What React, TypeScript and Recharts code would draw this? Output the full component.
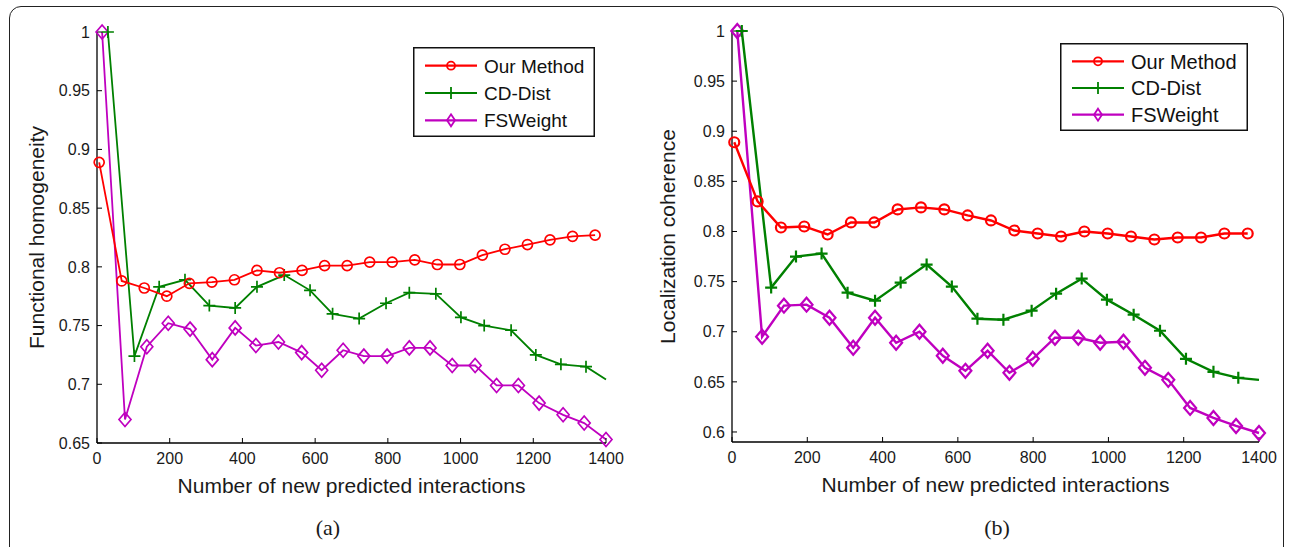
import React from "react";
import { LineChart, Line, XAxis, YAxis, Label } from "recharts";

// x positions (number of new predicted interactions) and values
const xTicks = [0, 200, 400, 600, 800, 1000, 1200, 1400];
const yTicksA = [0.65, 0.7, 0.75, 0.8, 0.85, 0.9, 0.95, 1];
const yTicksB = [0.6, 0.65, 0.7, 0.75, 0.8, 0.85, 0.9, 0.95, 1];

const ourX = [6, 68, 130, 192, 254, 316, 378, 440, 502, 564, 626, 688, 750, 812, 874, 936, 998, 1060, 1122, 1184, 1246, 1308, 1370];
const ourA = [0.889, 0.788, 0.782, 0.775, 0.786, 0.787, 0.789, 0.797, 0.795, 0.797, 0.801, 0.801, 0.804, 0.804, 0.806, 0.802, 0.802, 0.81, 0.815, 0.819, 0.823, 0.826, 0.827];
const ourB = [0.889, 0.83, 0.804, 0.805, 0.797, 0.809, 0.809, 0.822, 0.824, 0.822, 0.816, 0.811, 0.801, 0.798, 0.795, 0.8, 0.798, 0.795, 0.792, 0.794, 0.794, 0.798, 0.798];

const cdXA = [30, 103, 171, 242, 309, 380, 440, 515, 586, 648, 721, 795, 859, 932, 1001, 1065, 1139, 1207, 1276, 1345, 1400];
const cdA = [1.0, 0.724, 0.783, 0.789, 0.767, 0.765, 0.783, 0.793, 0.78, 0.76, 0.756, 0.769, 0.778, 0.777, 0.757, 0.75, 0.746, 0.725, 0.717, 0.715, 0.704];
const cdXB = [26, 104, 170, 238, 307, 380, 448, 517, 584, 652, 721, 796, 861, 929, 996, 1067, 1137, 1206, 1279, 1345, 1400];
const cdB = [1.0, 0.744, 0.775, 0.778, 0.739, 0.731, 0.749, 0.767, 0.745, 0.713, 0.712, 0.721, 0.738, 0.753, 0.732, 0.717, 0.701, 0.673, 0.66, 0.654, 0.652];

const fsXA = [14, 77, 137, 196, 256, 317, 380, 437, 499, 563, 618, 677, 734, 798, 859, 916, 977, 1040, 1099, 1159, 1216, 1282, 1340, 1400];
const fsA = [1.0, 0.67, 0.732, 0.752, 0.747, 0.721, 0.748, 0.733, 0.736, 0.727, 0.712, 0.729, 0.724, 0.724, 0.731, 0.731, 0.716, 0.716, 0.699, 0.699, 0.684, 0.674, 0.667, 0.653];
const fsXB = [14, 80, 138, 198, 259, 322, 380, 436, 498, 560, 620, 679, 737, 799, 858, 920, 978, 1040, 1097, 1159, 1217, 1279, 1339, 1400];
const fsB = [1.0, 0.695, 0.726, 0.727, 0.714, 0.684, 0.714, 0.689, 0.7, 0.676, 0.661, 0.681, 0.659, 0.673, 0.694, 0.694, 0.689, 0.69, 0.664, 0.652, 0.624, 0.614, 0.606, 0.599];

const seriesNames = ["Our Method", "CD-Dist", "FSWeight"];

const RED = "#ff0000";
const GREEN = "#008000";
const MAGENTA = "#bf00bf";
const SANS = "'Liberation Sans', Arial, sans-serif";

const pts = (xs: number[], ys: number[]) => xs.map((x, i) => ({ x, y: ys[i] }));

const circleDot = (w: number) => (p: any) => (
  <circle key={p.index} cx={p.cx} cy={p.cy} r={5} fill="none" stroke={RED} strokeWidth={w} />
);

const plusDot = (w: number) => (p: any) => {
  // the line runs to the axis edge, no marker there
  if (p.payload.x >= 1400) return <g key={p.index} />;
  return (
    <path
      key={p.index}
      d={`M${p.cx - 6},${p.cy}H${p.cx + 6}M${p.cx},${p.cy - 6}V${p.cy + 6}`}
      stroke={GREEN}
      strokeWidth={w}
      fill="none"
    />
  );
};

const diamondDot = (w: number) => (p: any) => (
  <path
    key={p.index}
    d={`M${p.cx},${p.cy - 7}L${p.cx + 6},${p.cy}L${p.cx},${p.cy + 7}L${p.cx - 6},${p.cy}Z`}
    stroke={MAGENTA}
    strokeWidth={w}
    fill="none"
  />
);

const noTick = () => <g />;

function LegendBox({ left, top, width, height, fontSize }: any) {
  const rows = [
    { color: RED, kind: "o" },
    { color: GREEN, kind: "+" },
    { color: MAGENTA, kind: "d" },
  ];
  const rowH = (height - 8) / 3;
  return (
    <svg
      width={width}
      height={height}
      style={{ position: "absolute", left, top, overflow: "visible" }}
    >
      <rect x={0.75} y={0.75} width={width - 1.5} height={height - 1.5} fill="#fff" stroke="#111" strokeWidth={1.5} />
      {rows.map((r, i) => {
        const cy = 4 + rowH * (i + 0.5) + 1;
        const mx = 38;
        return (
          <g key={i}>
            <line x1={12} x2={64} y1={cy} y2={cy} stroke={r.color} strokeWidth={2.2} />
            {r.kind === "o" && <circle cx={mx} cy={cy} r={4} fill="none" stroke={r.color} strokeWidth={1.8} />}
            {r.kind === "+" && (
              <path d={`M${mx},${cy - 6}V${cy + 6}`} stroke={r.color} strokeWidth={1.8} />
            )}
            {r.kind === "d" && (
              <path
                d={`M${mx},${cy - 6}L${mx + 4},${cy}L${mx},${cy + 6}L${mx - 4},${cy}Z`}
                fill="none"
                stroke={r.color}
                strokeWidth={1.8}
              />
            )}
            <text x={71} y={cy + fontSize * 0.36} fontSize={fontSize} fontFamily={SANS} fill="#111">
              {seriesNames[i]}
            </text>
          </g>
        );
      })}
    </svg>
  );
}

function Panel(props: any) {
  const { width, margin, yAxisWidth, yDomain, yTicks, yLabel, our, cd, fs, lw, mw } = props;
  const axisStyle = { stroke: "#000", strokeWidth: 1.3 };
  const tickStyle = { fontSize: 16, fontFamily: SANS, fill: "#1a1a1a" };
  return (
    <LineChart width={width} height={547} margin={margin}>
      <XAxis
        xAxisId="b"
        type="number"
        dataKey="x"
        domain={[0, 1400]}
        ticks={xTicks}
        height={86}
        tickSize={-5}
        tickMargin={15}
        axisLine={axisStyle}
        tickLine={{ stroke: "#000" }}
        tick={tickStyle}
        interval={0}
      >
        <Label value="Number of new predicted interactions" position="center" fontSize={21} fontFamily={SANS} fill="#1a1a1a" />
      </XAxis>
      <XAxis
        xAxisId="t"
        orientation="top"
        type="number"
        dataKey="x"
        domain={[0, 1400]}
        ticks={xTicks}
        height={0}
        tickSize={-5}
        axisLine={axisStyle}
        tickLine={{ stroke: "#000" }}
        tick={noTick}
        interval={0}
      />
      <YAxis
        yAxisId="l"
        type="number"
        domain={yDomain}
        ticks={yTicks}
        width={yAxisWidth}
        tickSize={-5}
        tickMargin={12}
        axisLine={axisStyle}
        tickLine={{ stroke: "#000" }}
        tick={tickStyle}
        interval={0}
      >
        <Label
          value={yLabel}
          position="insideLeft"
          offset={0}
          angle={-90}
          fontSize={21}
          fontFamily={SANS}
          fill="#1a1a1a"
          style={{ textAnchor: "middle" }}
        />
      </YAxis>
      <YAxis
        yAxisId="r"
        orientation="right"
        type="number"
        domain={yDomain}
        ticks={yTicks}
        width={0}
        tickSize={-5}
        axisLine={axisStyle}
        tickLine={{ stroke: "#000" }}
        tick={noTick}
        interval={0}
      />
      <Line
        xAxisId="b"
        yAxisId="l"
        data={fs}
        dataKey="y"
        name={seriesNames[2]}
        type="linear"
        stroke={MAGENTA}
        strokeWidth={lw}
        dot={diamondDot(mw)}
        activeDot={false}
        isAnimationActive={false}
      />
      <Line
        xAxisId="b"
        yAxisId="l"
        data={cd}
        dataKey="y"
        name={seriesNames[1]}
        type="linear"
        stroke={GREEN}
        strokeWidth={lw}
        dot={plusDot(mw)}
        activeDot={false}
        isAnimationActive={false}
      />
      <Line
        xAxisId="b"
        yAxisId="l"
        data={our}
        dataKey="y"
        name={seriesNames[0]}
        type="linear"
        stroke={RED}
        strokeWidth={lw}
        dot={circleDot(mw)}
        activeDot={false}
        isAnimationActive={false}
      />
    </LineChart>
  );
}

export default function App() {
  return (
    <div
      style={{
        position: "fixed",
        left: 0,
        top: 0,
        width: 1292,
        height: 547,
        background: "#fff",
        overflow: "hidden",
      }}
    >
      <div
        style={{
          position: "absolute",
          left: 9,
          top: 6,
          width: 1275,
          height: 620,
          border: "1.5px solid #222",
          borderRadius: 12,
          boxSizing: "border-box",
        }}
      />
      <div style={{ position: "absolute", left: 0, top: 0 }}>
        <Panel
          width={640}
          margin={{ top: 32, right: 34, left: 37, bottom: 18 }}
          yAxisWidth={60}
          yDomain={[0.65, 1]}
          yTicks={yTicksA}
          yLabel="Functional homogeneity"
          our={pts(ourX, ourA)}
          cd={pts(cdXA, cdA)}
          fs={pts(fsXA, fsA)}
          lw={1.8}
          mw={1.7}
        />
      </div>
      <div style={{ position: "absolute", left: 640, top: 0 }}>
        <Panel
          width={652}
          margin={{ top: 31, right: 33, left: 28, bottom: 19 }}
          yAxisWidth={64}
          yDomain={[0.59, 1]}
          yTicks={yTicksB}
          yLabel="Localization coherence"
          our={pts(ourX, ourB)}
          cd={pts(cdXB, cdB)}
          fs={pts(fsXB, fsB)}
          lw={2.4}
          mw={2.2}
        />
      </div>
      <LegendBox left={413} top={47} width={182} height={90} fontSize={19} />
      <LegendBox left={1060} top={43} width={188} height={88} fontSize={20} />
      <div
        style={{
          position: "absolute",
          left: 278,
          width: 100,
          top: 514,
          textAlign: "center",
          fontFamily: "'Liberation Serif', 'Times New Roman', serif",
          fontSize: 22,
          lineHeight: "28px",
          color: "#1a1a1a",
        }}
      >
        (a)
      </div>
      <div
        style={{
          position: "absolute",
          left: 947,
          width: 100,
          top: 514,
          textAlign: "center",
          fontFamily: "'Liberation Serif', 'Times New Roman', serif",
          fontSize: 22,
          lineHeight: "28px",
          color: "#1a1a1a",
        }}
      >
        (b)
      </div>
    </div>
  );
}
